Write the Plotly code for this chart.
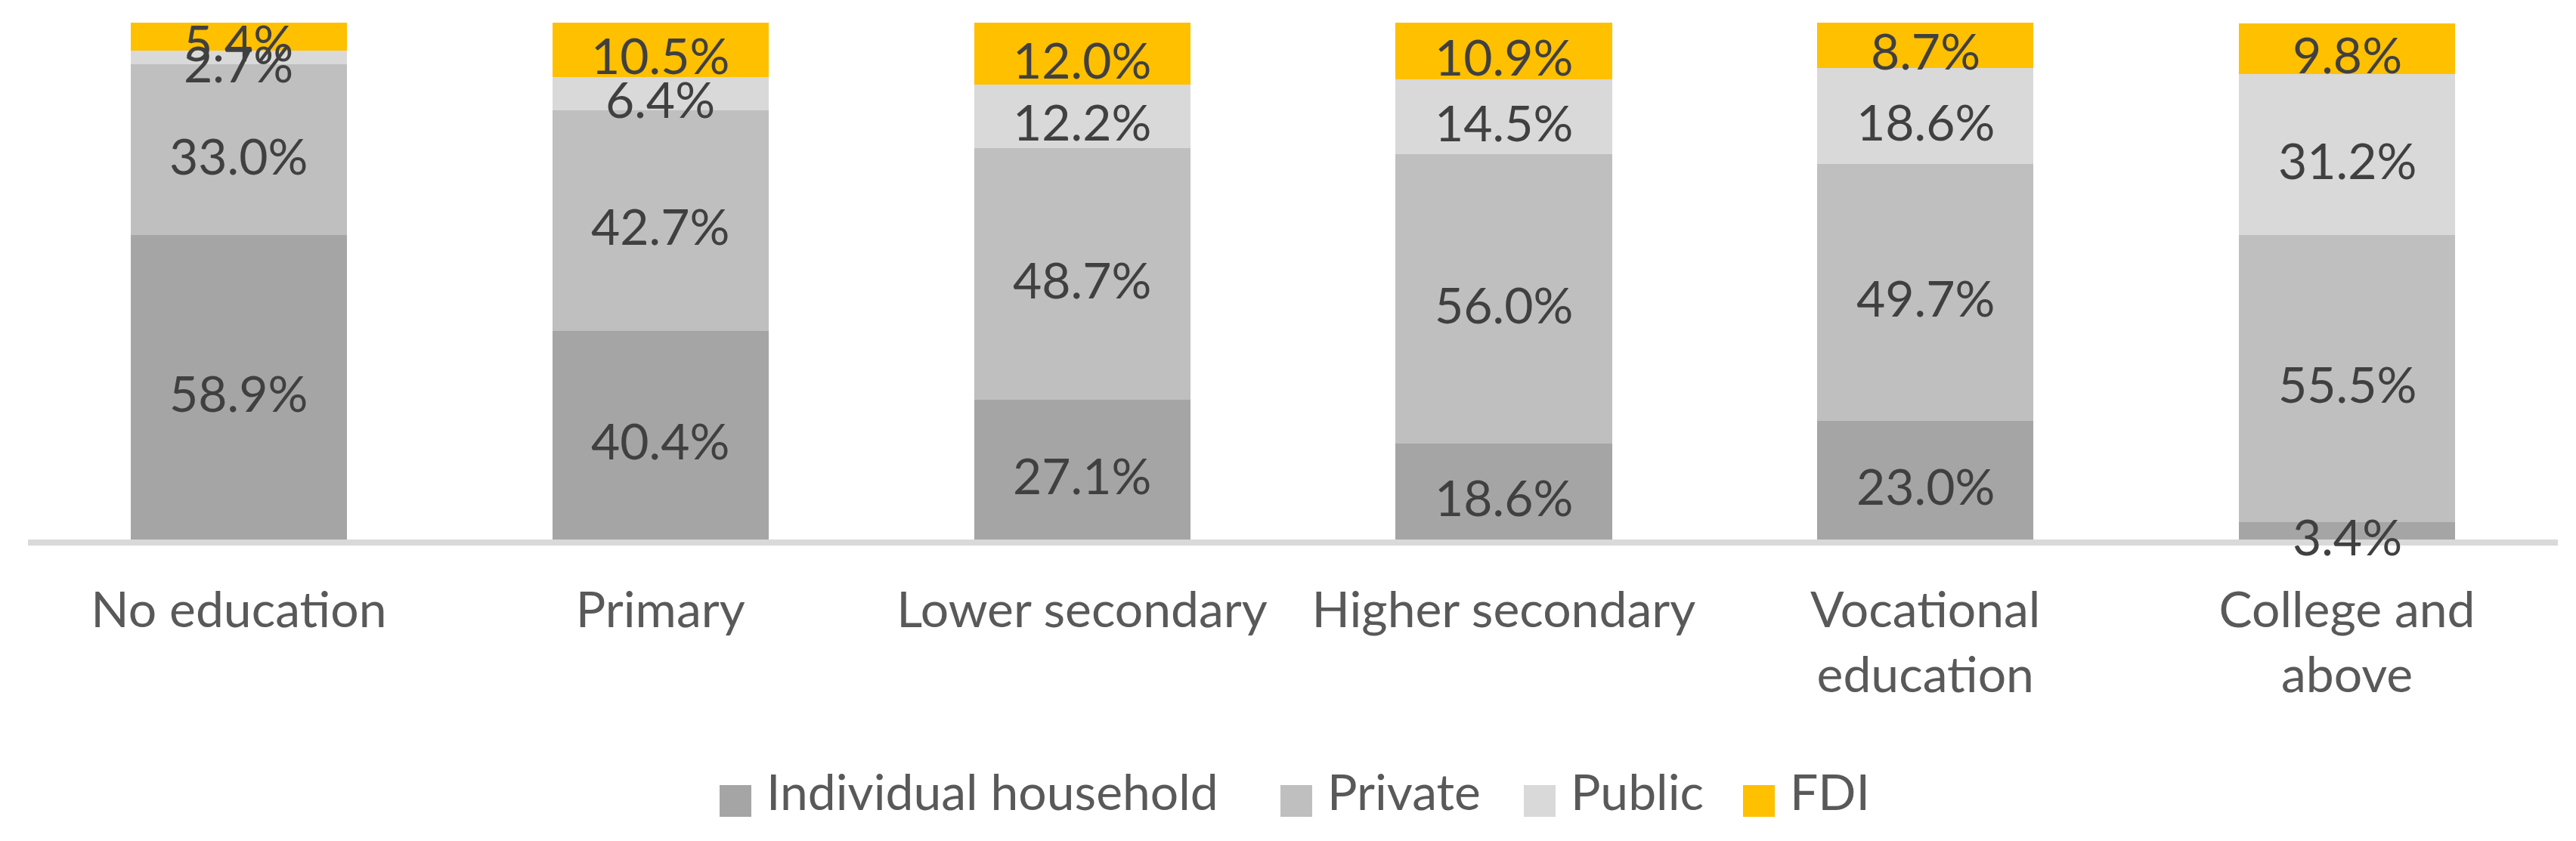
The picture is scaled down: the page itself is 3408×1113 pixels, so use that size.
import plotly.graph_objects as go

# ---------------- data ----------------
categories = ["No education", "Primary", "Lower secondary", "Higher secondary",
              "Vocational education", "College and above"]
tick_labels = ["No education", "Primary", "Lower secondary", "Higher secondary",
               "Vocational<br>education", "College and<br>above"]
series_names = ["Individual household", "Private", "Public", "FDI"]
individual_household = [58.9, 40.4, 27.1, 18.6, 23.0, 3.4]
private = [33.0, 42.7, 48.7, 56.0, 49.7, 55.5]
public = [2.7, 6.4, 12.2, 14.5, 18.6, 31.2]
fdi = [5.4, 10.5, 12.0, 10.9, 8.7, 9.8]

series_values = [individual_household, private, public, fdi]
colors = ["#A5A5A5", "#BFBFBF", "#D9D9D9", "#FFC000"]

FONT = "Lato"
OFF = 8                       # page body margin of the html page
W, H = 3408 - OFF, 1113 - OFF
L, R, T, B = 37 - OFF, 24, 30 - OFF, 399

fig = go.Figure()
annotations = []
base = [0.0] * len(categories)
for name, vals, col in zip(series_names, series_values, colors):
    fig.add_trace(go.Bar(
        x=categories, y=vals, name=name,
        marker=dict(color=col, line=dict(width=0)),
        showlegend=False,
        hovertemplate=name + ": %{y:.1f}%<extra></extra>",
    ))
    # value labels centred in each segment (data coordinates)
    for cat, b, v in zip(categories, base, vals):
        annotations.append(dict(
            x=cat, y=b + v / 2, xref="x", yref="y",
            text=f"{v:.1f}%", showarrow=False,
            xanchor="center", yanchor="middle", yshift=-7,
            font=dict(family=FONT, size=66, color="#404040"),
        ))
    base = [b + v for b, v in zip(base, vals)]

# custom legend (large square keys like the original)
pw = W - L - R
ph = H - T - B
def px_x(p):
    return (p - OFF - L) / pw
def px_y(p):
    return (H - B - (p - OFF)) / ph

legend_key_left = [952, 1694, 2016, 2306]
key_size = 42
key_top = 1039
shapes = []
for name, col, kx in zip(series_names, colors, legend_key_left):
    shapes.append(dict(type="rect", xref="paper", yref="paper",
                       x0=px_x(kx), x1=px_x(kx + key_size),
                       y0=px_y(key_top + key_size), y1=px_y(key_top),
                       fillcolor=col, line=dict(width=0)))
    annotations.append(dict(xref="paper", yref="paper",
                            x=px_x(kx + key_size + 18),
                            y=px_y(key_top + key_size / 2 - 14),
                            xanchor="left", yanchor="middle", showarrow=False,
                            text=name,
                            font=dict(family=FONT, size=66, color="#595959")))

fig.update_layout(
    width=W, height=H, autosize=False,
    barmode="stack", bargap=0.487,
    margin=dict(l=L, r=R, t=T, b=B, pad=0),
    paper_bgcolor="white", plot_bgcolor="white",
    shapes=shapes, annotations=annotations,
    showlegend=False,
    font=dict(family=FONT, color="#595959"),
)
fig.update_xaxes(
    type="category",
    tickmode="array", tickvals=categories, ticktext=tick_labels,
    tickangle=0, ticks="", showgrid=False, zeroline=False,
    showline=True, linecolor="#D9D9D9", linewidth=8,
    tickfont=dict(family=FONT, size=66, color="#595959"),
    ticklabelstandoff=29,
    range=[-0.5, 5.5],
)
fig.update_yaxes(range=[0, 100], visible=False, showgrid=False, zeroline=False)

fig.write_html("out.html")
